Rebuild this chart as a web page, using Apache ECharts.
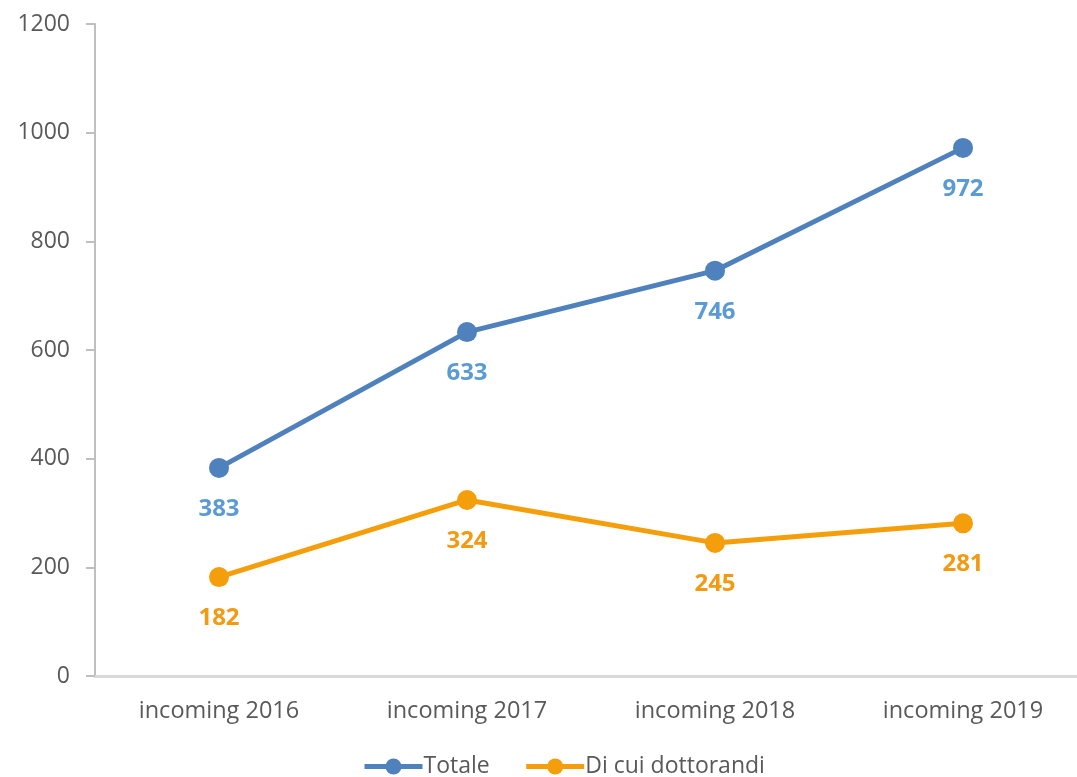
<!DOCTYPE html>
<html>
<head>
<meta charset="utf-8">
<style>
  html, body { margin: 0; padding: 0; background: #ffffff; overflow: hidden; }
  #chart { width: 1090px; height: 777px; }
</style>
<script src="https://cdn.jsdelivr.net/npm/echarts@6/dist/echarts.min.js"></script>
</head>
<body>
<div id="chart"></div>
<script>
// Incoming students per year: total and, of those, PhD candidates
const categories = ['incoming 2016', 'incoming 2017', 'incoming 2018', 'incoming 2019'];
const totale = [383, 633, 746, 972];
const dottorandi = [182, 324, 245, 281];
const yTicks = [0, 200, 400, 600, 800, 1000, 1200];

const FONT = '"Open Sans", "Noto Sans", sans-serif';

const chart = echarts.init(document.getElementById('chart'), null, { renderer: 'canvas' });

function lineSeries(name, data, lineColor, labelColor) {
  return {
    name: name,
    type: 'line',
    data: data,
    symbol: 'circle',
    symbolSize: 20,
    lineStyle: { color: lineColor, width: 5 },
    itemStyle: { color: lineColor },
    label: {
      show: true,
      position: 'bottom',
      distance: 19,
      color: labelColor,
      fontFamily: FONT,
      fontWeight: 'bold',
      fontSize: 24
    },
    emphasis: { disabled: true },
    animation: false
  };
}

chart.setOption({
  backgroundColor: '#ffffff',
  // plot area runs slightly past the visible right edge
  grid: { left: 95, right: 3, top: 24, bottom: 101, containLabel: false },
  legend: {
    top: 755,
    left: 362,
    padding: 0,
    itemWidth: 58,
    itemHeight: 20,
    itemGap: 34,
    lineStyle: { width: 5 },
    textStyle: { color: '#595959', fontFamily: FONT, fontSize: 23, padding: [0, 0, 0, -4] },
    data: ['Totale', 'Di cui dottorandi']
  },
  xAxis: {
    type: 'category',
    data: categories,
    boundaryGap: true,
    axisLine: { lineStyle: { color: '#d9d9d9', width: 3 } },
    axisTick: { show: false },
    axisLabel: { color: '#595959', fontFamily: FONT, fontSize: 23.5, margin: 23 },
    splitLine: { show: false }
  },
  yAxis: {
    type: 'value',
    min: yTicks[0],
    max: yTicks[yTicks.length - 1],
    interval: yTicks[1] - yTicks[0],
    axisLine: { show: true, lineStyle: { color: '#bfbfbf', width: 2 } },
    axisTick: { show: true, length: 9, lineStyle: { color: '#bfbfbf', width: 2 } },
    axisLabel: {
      color: '#595959', fontFamily: FONT, fontSize: 23, margin: 25,
      formatter: function (v) { return String(v); }
    },
    splitLine: { show: false }
  },
  series: [
    lineSeries('Totale', totale, '#4f81bd', '#5b9bd5'),
    lineSeries('Di cui dottorandi', dottorandi, '#f59e0b', '#f29a12')
  ]
});
</script>
</body>
</html>
